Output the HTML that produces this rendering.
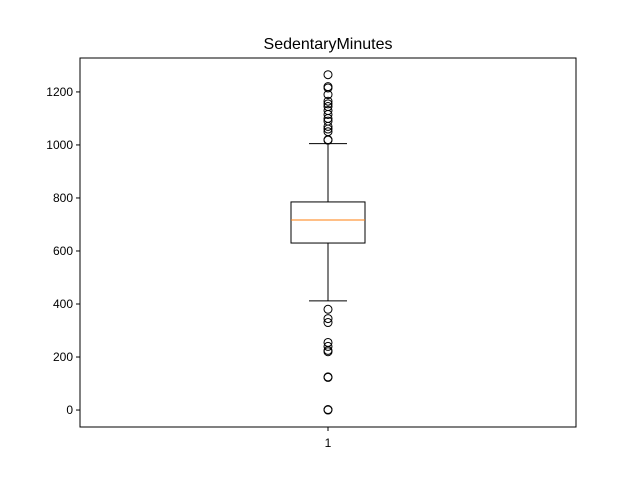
<!DOCTYPE html>
<html><head><meta charset="utf-8"><style>
body{margin:0;background:#fff;}
svg text{font-family:"Liberation Sans","DejaVu Sans",sans-serif;fill:#000;}
</style></head><body>
<svg id="chart" width="640" height="480"></svg>
<script>
const categories=["1"];
const q1s=[630];
const medians=[717];
const q3s=[785];
const whiskerLows=[412];
const whiskerHighs=[1005];
const outliers=[[1265,1220,1215,1190,1165,1155,1145,1130,1115,1100,1090,1070,1060,1050,1020,1018,380,345,330,255,240,225,220,125,123,0,2]];
const yTicks=[0,200,400,600,800,1000,1200];
const title="SedentaryMinutes";

const NS="http://www.w3.org/2000/svg";
const svg=document.getElementById('chart');
const L=80,R=576,T=58,B=427,yMin=-64,yMax=1328;
const y=v=>B-(v-yMin)/(yMax-yMin)*(B-T);
const x=i=>L+(R-L)*(i+0.5)/categories.length;
function el(t,a,p){const e=document.createElementNS(NS,t);for(const k in a)e.setAttribute(k,a[k]);(p||svg).appendChild(e);return e;}

const t=el('text',{x:328,y:49,'text-anchor':'middle','font-size':16});t.textContent=title;



categories.forEach((c,i)=>{
  const cx=x(i),hw=37,cw=19;
  const g=el('g',{});
  
  
  el('line',{x1:cx,x2:cx,y1:y(q1s[i]),y2:y(whiskerLows[i]),stroke:'#000'},g);
  el('line',{x1:cx,x2:cx,y1:y(q3s[i]),y2:y(whiskerHighs[i]),stroke:'#000'},g);
  el('line',{x1:cx-cw,x2:cx+cw,y1:y(whiskerLows[i]),y2:y(whiskerLows[i]),stroke:'#000'},g);
  el('line',{x1:cx-cw,x2:cx+cw,y1:y(whiskerHighs[i]),y2:y(whiskerHighs[i]),stroke:'#000'},g);
  el('rect',{x:cx-hw,y:y(q3s[i]),width:2*hw,height:y(q1s[i])-y(q3s[i]),fill:'none',stroke:'#000'},g);
  el('line',{x1:cx-hw,x2:cx+hw,y1:y(medians[i]),y2:y(medians[i]),stroke:'#ff7f0e'},g);
  outliers[i].forEach(v=>{
    const o=el('circle',{cx:cx,cy:y(v),r:4,fill:'none',stroke:'#000'},g);
    
    
  });
  el('line',{x1:cx,x2:cx,y1:B,y2:B+4,stroke:'#000'});
  const lt=el('text',{x:cx,y:B+20,'text-anchor':'middle','font-size':12});lt.textContent=c;
  
  
});

yTicks.forEach(v=>{
  el('line',{x1:L-4,x2:L,y1:y(v),y2:y(v),stroke:'#000'});
  const tt=el('text',{x:L-7,y:y(v)+4,'text-anchor':'end','font-size':12});tt.textContent=v;
  
  
});
const f=el('rect',{x:L,y:T,width:R-L,height:B-T,fill:'none',stroke:'#000'});


</script>
</body></html>
